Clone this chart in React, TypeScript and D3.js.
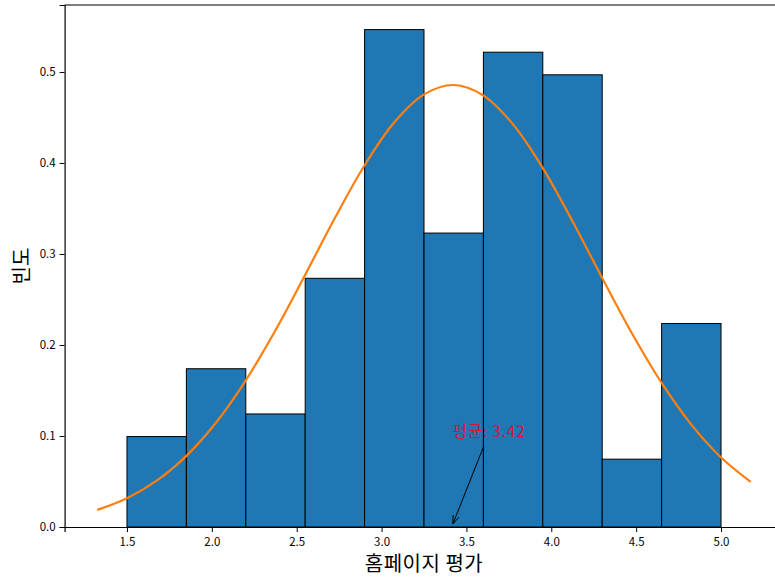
import React, { useEffect, useRef } from 'react';
import * as d3 from 'd3';

// histogram bins (edges) and counts
const binEdges = [1.5, 1.85, 2.2, 2.55, 2.9, 3.25, 3.6, 3.95, 4.3, 4.65, 5.0];
const binCounts = [4, 7, 5, 11, 22, 13, 21, 20, 3, 9];

// fitted normal curve
const curveX = [1.325, 1.5, 1.675, 1.85, 2.025, 2.2, 2.375, 2.55, 2.725, 2.9, 3.075, 3.25,
  3.425, 3.6, 3.775, 3.95, 4.125, 4.3, 4.475, 4.65, 4.825, 5.0, 5.175];
const curveY = [0.0188, 0.0316, 0.0509, 0.0782, 0.1148, 0.1612, 0.2162, 0.2772, 0.3395, 0.3975, 0.4447, 0.4754,
  0.4857, 0.4742, 0.4424, 0.3944, 0.336, 0.2736, 0.2129, 0.1583, 0.1125, 0.0764, 0.0496];

const meanValue = 3.42;
const xTicks = [1.5, 2.0, 2.5, 3.0, 3.5, 4.0, 4.5, 5.0];
const yTicks = [0.0, 0.1, 0.2, 0.3, 0.4, 0.5];

const font = '"Noto Sans CJK KR", "Noto Sans", sans-serif';

const App = () => {
  const svgRef = useRef<SVGSVGElement>(null);

  useEffect(() => {
    const width = 775;
    const height = 577;

    const svg = d3.select(svgRef.current);
    svg.selectAll('*').remove();
    svg.attr('viewBox', [0, 0, width, height]);

    const total = d3.sum(binCounts);
    const bins = binCounts.map((c, i) => ({
      x0: binEdges[i],
      x1: binEdges[i + 1],
      density: c / (total * (binEdges[i + 1] - binEdges[i])),
    }));

    // x scale: 1.5 -> 127px, 5.0 -> 721px
    const x = d3.scaleLinear().domain([1.1325, 5.3675]).range([64.6, 783.4]);
    const y = d3.scaleLinear().domain([0, 0.5736]).range([527, 5]);

    // bars
    svg.append('g')
      .selectAll('rect')
      .data(bins)
      .join('rect')
      .attr('x', d => x(d.x0))
      .attr('y', d => y(d.density))
      .attr('width', d => x(d.x1) - x(d.x0))
      .attr('height', d => y(0) - y(d.density))
      .attr('fill', '#1f77b4')
      .attr('stroke', '#000')
      .attr('stroke-width', 1);

    // normal curve
    const line = d3.line<number>()
      .x((d, i) => x(curveX[i]))
      .y(d => y(d))
      .curve(d3.curveCatmullRom);

    svg.append('path')
      .datum(curveY)
      .attr('d', line)
      .attr('fill', 'none')
      .attr('stroke', '#ff7f0e')
      .attr('stroke-width', 2.2);

    // annotation
    const tx = x(meanValue);
    const ty = y(0.1) + 1;
    svg.append('text')
      .attr('x', tx)
      .attr('y', ty)
      .attr('font-family', font)
      .attr('font-size', 15.5)
      .attr('letter-spacing', 0.8)
      .attr('fill', '#dc143c')
      .text(`평균: ${meanValue}`);

    const sx = tx + 31;
    const sy = ty + 9;
    const ex = x(meanValue);
    const ey = y(0) - 3;
    const ang = Math.atan2(ey - sy, ex - sx);
    const head = 9;
    const spread = 0.35;
    svg.append('line')
      .attr('x1', sx).attr('y1', sy)
      .attr('x2', ex).attr('y2', ey)
      .attr('stroke', '#000')
      .attr('stroke-width', 1);
    svg.append('path')
      .attr('d', `M${ex - head * Math.cos(ang - spread)},${ey - head * Math.sin(ang - spread)}L${ex},${ey}L${ex - head * Math.cos(ang + spread)},${ey - head * Math.sin(ang + spread)}`)
      .attr('fill', 'none')
      .attr('stroke', '#000')
      .attr('stroke-width', 1);

    // axes
    const xAxis = svg.append('g')
      .attr('transform', `translate(0,${y(0)})`)
      .call(d3.axisBottom(x).tickValues(xTicks).tickFormat(d3.format('.1f')).tickSizeOuter(0).tickSize(5).tickPadding(6));
    const yAxis = svg.append('g')
      .attr('transform', `translate(${x.range()[0]},0)`)
      .call(d3.axisLeft(y).tickValues(yTicks).tickFormat(d3.format('.1f')).tickSizeOuter(0).tickSize(5).tickPadding(4));

    [xAxis, yAxis].forEach(a => {
      a.select('.domain').attr('stroke', '#000').attr('stroke-width', 1.2);
      a.selectAll('text').attr('font-family', font).attr('font-size', 11.5).attr('fill', '#000');
      a.selectAll('line').attr('stroke', '#000');
    });

    // top spine
    svg.append('line')
      .attr('x1', x.range()[0]).attr('x2', x.range()[1])
      .attr('y1', y.range()[1]).attr('y2', y.range()[1])
      .attr('stroke', '#000').attr('stroke-width', 1.2);

    // axis labels
    svg.append('text')
      .attr('x', x(3.25))
      .attr('y', 571)
      .attr('text-anchor', 'middle')
      .attr('font-family', font)
      .attr('font-size', 20)
      .attr('letter-spacing', 0.5)
      .text('홈페이지 평가');

    svg.append('text')
      .attr('transform', `translate(29,${(y.range()[0] + y.range()[1]) / 2}) rotate(-90)`)
      .attr('text-anchor', 'middle')
      .attr('font-family', font)
      .attr('font-size', 20)
      .text('빈도');
  }, []);

  return (
    <svg
      ref={svgRef}
      width={775}
      height={577}
      style={{ position: 'absolute', left: 0, top: 0, display: 'block', background: '#fff' }}
    />
  );
};

export default App;
